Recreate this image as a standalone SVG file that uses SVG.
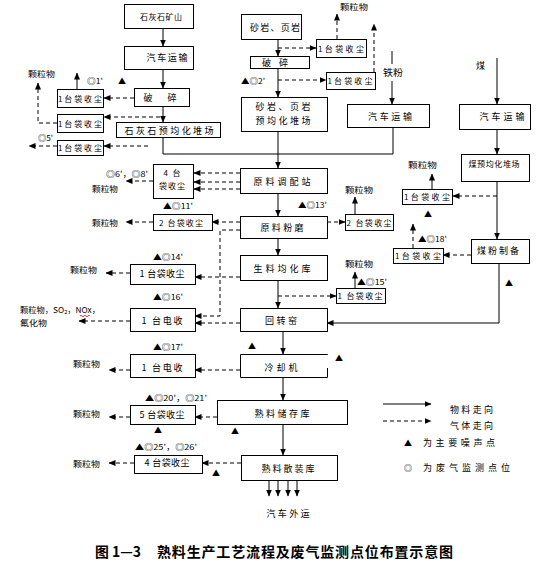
<svg xmlns="http://www.w3.org/2000/svg" width="551" height="570" viewBox="0 0 551 570">
<style>
.b{fill:#fff;stroke:#000;stroke-width:1}
.t{font-family:"Noto Sans CJK SC","Noto Sans",sans-serif;font-size:9px;fill:#000}
.sm{font-size:8px}
.c{text-anchor:middle}
.s{fill:none;stroke:#000;stroke-width:1}
.d{fill:none;stroke:#000;stroke-width:1;stroke-dasharray:4,3}
.a{marker-end:url(#ah)}
.title{font-family:"Noto Sans CJK SC","Noto Sans",sans-serif;font-size:14px;font-weight:bold;fill:#000}
</style>
<defs>
<marker id="ah" markerUnits="userSpaceOnUse" markerWidth="7" markerHeight="6" refX="6.5" refY="3" orient="auto">
<path d="M0,0 L7,3 L0,6 z" fill="#000"/>
</marker>
</defs>
<rect width="551" height="570" fill="#fff"/>

<g id="connectors">
<line class="s a" x1="163" y1="28" x2="163" y2="46"/>
<line class="s a" x1="163" y1="69" x2="163" y2="88"/>
<line class="s a" x1="163" y1="106" x2="163" y2="122"/>
<line class="d a" x1="134" y1="98" x2="104" y2="98"/>
<line class="d a" x1="160" y1="117" x2="104" y2="117"/>
<line class="d a" x1="148" y1="146" x2="104" y2="146"/>
<line class="s a" x1="77" y1="89" x2="77" y2="73"/>
<polyline class="d a" points="57,123 38,123 38,83"/>
<line class="d a" x1="57" y1="146" x2="29" y2="146"/>
<polyline class="s" points="163,137 163,154 393,154 393,127"/>
<line class="s a" x1="278" y1="39" x2="278" y2="56"/>
<line class="d a" x1="278" y1="48" x2="316" y2="48"/>
<line class="d a" x1="337" y1="39" x2="337" y2="14"/>
<line class="s a" x1="278" y1="68" x2="278" y2="97"/>
<line class="d a" x1="278" y1="80" x2="326" y2="80"/>
<line class="d a" x1="374" y1="72" x2="374" y2="24"/>
<line class="s a" x1="278" y1="131" x2="278" y2="168"/>
<line class="s" x1="392" y1="51" x2="392" y2="64"/>
<line class="s a" x1="392" y1="81" x2="392" y2="104"/>
<line class="s a" x1="497" y1="58" x2="497" y2="104"/>
<line class="s a" x1="497" y1="129" x2="497" y2="154"/>
<line class="s a" x1="497" y1="181" x2="497" y2="239"/>
<line class="d a" x1="497" y1="196" x2="453" y2="196"/>
<line class="s a" x1="432" y1="189" x2="432" y2="174"/>
<line class="d a" x1="471" y1="255" x2="443" y2="255"/>
<line class="d a" x1="413" y1="248" x2="413" y2="224"/>
<polyline class="s a" points="499,263 499,323 327,323"/>
<line class="d a" x1="240" y1="173" x2="194" y2="173"/>
<line class="d a" x1="240" y1="182" x2="194" y2="182"/>
<line class="d a" x1="240" y1="189" x2="194" y2="189"/>
<line class="d a" x1="153" y1="181" x2="126" y2="181"/>
<line class="s a" x1="278" y1="193" x2="278" y2="216"/>
<line class="d a" x1="240" y1="222" x2="212" y2="222"/>
<line class="d a" x1="153" y1="222" x2="126" y2="222"/>
<line class="d a" x1="327" y1="222" x2="345" y2="222"/>
<line class="s a" x1="355" y1="214" x2="355" y2="197"/>
<polyline class="d a" points="240,230 220,230 220,316 195,316"/>
<line class="s a" x1="278" y1="238" x2="278" y2="255"/>
<line class="d a" x1="240" y1="277" x2="195" y2="277"/>
<line class="d a" x1="130" y1="273" x2="106" y2="273"/>
<line class="s a" x1="278" y1="280" x2="278" y2="308"/>
<line class="d a" x1="278" y1="296" x2="336" y2="296"/>
<line class="s a" x1="355" y1="288" x2="355" y2="272"/>
<line class="d a" x1="240" y1="323" x2="195" y2="323"/>
<line class="d a" x1="130" y1="321" x2="79" y2="321"/>
<line class="s a" x1="283" y1="331" x2="283" y2="354"/>
<line class="d a" x1="240" y1="370" x2="195" y2="370"/>
<line class="d a" x1="130" y1="370" x2="109" y2="370"/>
<line class="s a" x1="283" y1="377" x2="283" y2="400"/>
<line class="d a" x1="217" y1="417" x2="195" y2="417"/>
<line class="d a" x1="130" y1="417" x2="109" y2="417"/>
<line class="s a" x1="283" y1="424" x2="283" y2="455"/>
<line class="d a" x1="241" y1="463" x2="202" y2="463"/>
<line class="d a" x1="134" y1="463" x2="109" y2="463"/>
<line class="s a" x1="269" y1="480" x2="269" y2="496"/>
<line class="s a" x1="278" y1="480" x2="278" y2="496"/>
<line class="s a" x1="288" y1="480" x2="288" y2="496"/>
<line class="s a" x1="297" y1="480" x2="297" y2="496"/>
<line class="s a" x1="383" y1="404" x2="431" y2="404"/>
<line class="d a" x1="383" y1="421" x2="431" y2="421"/>
</g>

<g id="n-limestone-mine"><rect class="b" x="124.5" y="4.5" width="69" height="24"/><text class="t sm c" x="161" y="19.5" textLength="42" lengthAdjust="spacing">石灰石矿山</text></g>
<g id="n-truck1"><rect class="b" x="124.5" y="46.5" width="69" height="23"/><text class="t c" x="167" y="61" textLength="41" lengthAdjust="spacing">汽车运输</text></g>
<g id="n-crush1"><rect class="b" x="134.5" y="88.5" width="55" height="18"/><text class="t c" x="160" y="100.5" textLength="33" lengthAdjust="spacing">破 碎</text></g>
<g id="n-limestone-yard"><rect class="b" x="116.5" y="122.5" width="104" height="15"/><text class="t c" x="169" y="133.5" textLength="89" lengthAdjust="spacing">石灰石预均化堆场</text></g>
<g id="n-dc-l1"><rect class="b" x="57.5" y="89.5" width="46" height="18"/><text class="t sm c" x="80" y="101.5" textLength="44" lengthAdjust="spacing">1台袋收尘</text></g>
<g id="n-dc-l2"><rect class="b" x="57.5" y="114.5" width="46" height="18"/><text class="t sm c" x="80" y="126.5" textLength="44" lengthAdjust="spacing">1台袋收尘</text></g>
<g id="n-dc-l3"><rect class="b" x="57.5" y="140.5" width="46" height="15"/><text class="t sm c" x="80" y="151" textLength="44" lengthAdjust="spacing">1台袋收尘</text></g>

<g id="n-shale"><rect class="b" x="241.5" y="14.5" width="60" height="25"/><text class="t c" x="275" y="30.5" textLength="50" lengthAdjust="spacing">砂岩、页岩</text></g>
<g id="n-crush2"><rect class="b" x="250.5" y="56.5" width="59" height="12"/><text class="t c" x="275" y="65.5" textLength="26" lengthAdjust="spacing">破 碎</text></g>
<g id="n-dc-s1"><rect class="b" x="316.5" y="39.5" width="50" height="18"/><text class="t sm c" x="341" y="51.5" textLength="46" lengthAdjust="spacing">1台袋收尘</text></g>
<g id="n-dc-s2"><rect class="b" x="326.5" y="72.5" width="49" height="17"/><text class="t sm c" x="350" y="84" textLength="45" lengthAdjust="spacing">1台袋收尘</text></g>
<g id="n-shale-yard"><rect class="b" x="241.5" y="97.5" width="86" height="34"/><text class="t c" x="283" y="110" textLength="55" lengthAdjust="spacing">砂岩、页岩</text><text class="t c" x="283" y="124" textLength="55" lengthAdjust="spacing">预均化堆场</text></g>
<g id="n-iron-truck"><rect class="b" x="347.5" y="104.5" width="82" height="23"/><text class="t c" x="390" y="119.5" textLength="44" lengthAdjust="spacing">汽车运输</text></g>

<g id="n-coal-truck"><rect class="b" x="459.5" y="104.5" width="71" height="25"/><text class="t c" x="502" y="119.5" textLength="45" lengthAdjust="spacing">汽车运输</text></g>
<g id="n-coal-yard"><rect class="b" x="461.5" y="154.5" width="68" height="27"/><text class="t sm c" x="494" y="167" textLength="51" lengthAdjust="spacing">煤预均化堆场</text></g>
<g id="n-dc-c1"><rect class="b" x="402.5" y="189.5" width="50" height="15"/><text class="t sm c" x="427" y="200" textLength="46" lengthAdjust="spacing">1台袋收尘</text></g>
<g id="n-coal-mill"><rect class="b" x="471.5" y="239.5" width="58" height="24"/><text class="t c" x="498" y="253.5" textLength="42" lengthAdjust="spacing">煤粉制备</text></g>
<g id="n-dc-c2"><rect class="b" x="393.5" y="248.5" width="50" height="15"/><text class="t sm c" x="418" y="259" textLength="46" lengthAdjust="spacing">1台袋收尘</text></g>

<g id="n-batching"><rect class="b" x="240.5" y="168.5" width="87" height="25"/><text class="t c" x="282" y="184.5" textLength="57" lengthAdjust="spacing">原料调配站</text></g>
<g id="n-dc4"><rect class="b" x="153.5" y="164.5" width="40" height="34"/><text class="t sm c" x="172" y="176" textLength="17" lengthAdjust="spacing">4 台</text><text class="t sm c" x="172" y="189" textLength="26" lengthAdjust="spacing">袋收尘</text></g>
<g id="n-raw-mill"><rect class="b" x="240.5" y="216.5" width="87" height="22"/><text class="t c" x="282" y="230.5" textLength="43" lengthAdjust="spacing">原料粉磨</text></g>
<g id="n-dc2-left"><rect class="b" x="153.5" y="214.5" width="59" height="16"/><text class="t sm c" x="181" y="226" textLength="44" lengthAdjust="spacing">2 台袋收尘</text></g>
<g id="n-dc2-right"><rect class="b" x="345.5" y="214.5" width="48" height="16"/><text class="t sm c" x="369" y="226" textLength="45" lengthAdjust="spacing">2 台袋收尘</text></g>
<g id="n-homo"><rect class="b" x="240.5" y="255.5" width="87" height="25"/><text class="t c" x="282" y="271.5" textLength="57" lengthAdjust="spacing">生料均化库</text></g>
<g id="n-dc-14"><rect class="b" x="130.5" y="264.5" width="65" height="20"/><text class="t c" x="162" y="277" textLength="45" lengthAdjust="spacing">1 台袋收尘</text></g>
<g id="n-dc-15"><rect class="b" x="336.5" y="288.5" width="49" height="15"/><text class="t sm c" x="360" y="299" textLength="45" lengthAdjust="spacing">1 台袋收尘</text></g>
<g id="n-kiln"><rect class="b" x="240.5" y="308.5" width="87" height="23"/><text class="t c" x="281" y="323.5" textLength="32" lengthAdjust="spacing">回转窑</text></g>
<g id="n-esp1"><rect class="b" x="130.5" y="308.5" width="65" height="23"/><text class="t c" x="162" y="323.5" textLength="41" lengthAdjust="spacing">1 台电收</text></g>
<g id="n-cooler"><path class="s" d="M327.5,368 V377.5 H240.5 V354.5 H327.5 V355"/><text class="t c" x="281" y="370.5" textLength="33" lengthAdjust="spacing">冷却机</text></g>
<g id="n-esp2"><rect class="b" x="130.5" y="354.5" width="65" height="23"/><text class="t c" x="162" y="370.5" textLength="41" lengthAdjust="spacing">1 台电收</text></g>
<g id="n-clinker-store"><rect class="b" x="217.5" y="400.5" width="130" height="24"/><text class="t c" x="282" y="416.5" textLength="55" lengthAdjust="spacing">熟料储存库</text></g>
<g id="n-dc5"><rect class="b" x="130.5" y="405.5" width="65" height="19"/><text class="t c" x="162" y="418" textLength="45" lengthAdjust="spacing">5 台袋收尘</text></g>
<g id="n-clinker-bulk"><rect class="b" x="241.5" y="455.5" width="96" height="25"/><text class="t c" x="288" y="471.5" textLength="53" lengthAdjust="spacing">熟料散装库</text></g>
<g id="n-dc4b"><rect class="b" x="134.5" y="455.5" width="68" height="18"/><text class="t c" x="167" y="466" textLength="45" lengthAdjust="spacing">4 台袋收尘</text></g>

<g id="labels">
<text class="t sm" x="28" y="76.5" textLength="27" lengthAdjust="spacingAndGlyphs">颗粒物</text>
<text class="t sm" x="87" y="83.5" textLength="16" lengthAdjust="spacingAndGlyphs">◎1'</text>
<text class="t sm" x="38" y="140.5" textLength="15" lengthAdjust="spacingAndGlyphs">◎5'</text>
<text class="t sm" x="340" y="9.5" textLength="28" lengthAdjust="spacingAndGlyphs">颗粒物</text>
<text class="t sm" x="241" y="83.5" textLength="24" lengthAdjust="spacingAndGlyphs">▲◎2'</text>
<text class="t" x="383" y="75.5" textLength="20" lengthAdjust="spacingAndGlyphs">铁粉</text>
<text class="t" x="476" y="68.5">煤</text>
<text class="t sm" x="408" y="167.5" textLength="29" lengthAdjust="spacingAndGlyphs">颗粒物</text>
<text class="t sm" x="418" y="241.5" textLength="29" lengthAdjust="spacingAndGlyphs">▲◎18'</text>
<text class="t sm" x="106" y="176.5" textLength="42" lengthAdjust="spacingAndGlyphs">◎6'，◎8'</text>
<text class="t sm" x="92" y="191.5" textLength="26" lengthAdjust="spacingAndGlyphs">颗粒物</text>
<text class="t sm" x="163" y="208.5" textLength="30" lengthAdjust="spacingAndGlyphs">▲◎11'</text>
<text class="t sm" x="92" y="225.5" textLength="26" lengthAdjust="spacingAndGlyphs">颗粒物</text>
<text class="t sm" x="298" y="207.5" textLength="29" lengthAdjust="spacingAndGlyphs">▲◎13'</text>
<text class="t sm" x="345" y="192.5" textLength="28" lengthAdjust="spacingAndGlyphs">颗粒物</text>
<text class="t sm" x="153" y="259.5" textLength="30" lengthAdjust="spacingAndGlyphs">▲◎14'</text>
<text class="t sm" x="70" y="272.5" textLength="27" lengthAdjust="spacingAndGlyphs">颗粒物</text>
<text class="t sm" x="345" y="266.5" textLength="28" lengthAdjust="spacingAndGlyphs">颗粒物</text>
<text class="t sm" x="357" y="284.5" textLength="30" lengthAdjust="spacingAndGlyphs">▲◎15'</text>
<text class="t sm" x="153" y="299.5" textLength="30" lengthAdjust="spacingAndGlyphs">▲◎16'</text>
<text class="t sm" x="20" y="312.5" textLength="80" lengthAdjust="spacingAndGlyphs" font-size="7.5">颗粒物，SO<tspan font-size="5.5" dy="1.5">2</tspan><tspan dy="-1.5">，NOx，</tspan></text>
<path d="M80,316 q1,-1.5 2,0 t2,0 t2,0 t2,0 t2,0" fill="none" stroke="#e00000" stroke-width="0.8"/>
<text class="t sm" x="20" y="325.5" textLength="27" lengthAdjust="spacingAndGlyphs" font-size="7.5">氟化物</text>
<text class="t sm" x="153" y="349.5" textLength="30" lengthAdjust="spacingAndGlyphs">▲◎17'</text>
<text class="t sm" x="73" y="366.5" textLength="27" lengthAdjust="spacingAndGlyphs">颗粒物</text>
<text class="t sm" x="145" y="400.5" textLength="62" lengthAdjust="spacingAndGlyphs">▲◎20'，◎21'</text>
<text class="t sm" x="73" y="416.5" textLength="27" lengthAdjust="spacingAndGlyphs">颗粒物</text>
<text class="t sm" x="135" y="449.5" textLength="62" lengthAdjust="spacingAndGlyphs">▲◎25'，◎26'</text>
<text class="t sm" x="73" y="466.5" textLength="27" lengthAdjust="spacingAndGlyphs">颗粒物</text>
<text class="t sm c" x="122" y="83.5">▲</text>
<text class="t sm c" x="428" y="216.5">▲</text>
<text class="t sm c" x="509" y="285.5">▲</text>
<text class="t sm c" x="252" y="348.5">▲</text>
<text class="t sm c" x="339" y="360.5">▲</text>
<text class="t sm c" x="158" y="432.5">▲</text>
<text class="t sm c" x="235" y="433.5">▲</text>
<text class="t sm c" x="216" y="475.5">▲</text>
<text class="t c" x="288" y="516.5" textLength="43" lengthAdjust="spacing">汽车外运</text>
</g>

<g id="legend">
<text class="t" x="450" y="412.5" textLength="43" lengthAdjust="spacing">物料走向</text>
<text class="t" x="450" y="428.5" textLength="43" lengthAdjust="spacing">气体走向</text>
<text class="t sm c" x="408" y="445.5">▲</text>
<text class="t" x="423" y="445.5" textLength="72" lengthAdjust="spacing">为主要噪声点</text>
<text class="t sm c" x="408" y="470.5">◎</text>
<text class="t" x="423" y="470.5" textLength="87" lengthAdjust="spacing">为废气监测点位</text>
</g>

<g id="title">
<text class="title" x="95" y="557" textLength="46" lengthAdjust="spacingAndGlyphs">图 1—3</text>
<text class="title" x="157" y="557" textLength="296" lengthAdjust="spacing">熟料生产工艺流程及废气监测点位布置示意图</text>
</g>
</svg>
